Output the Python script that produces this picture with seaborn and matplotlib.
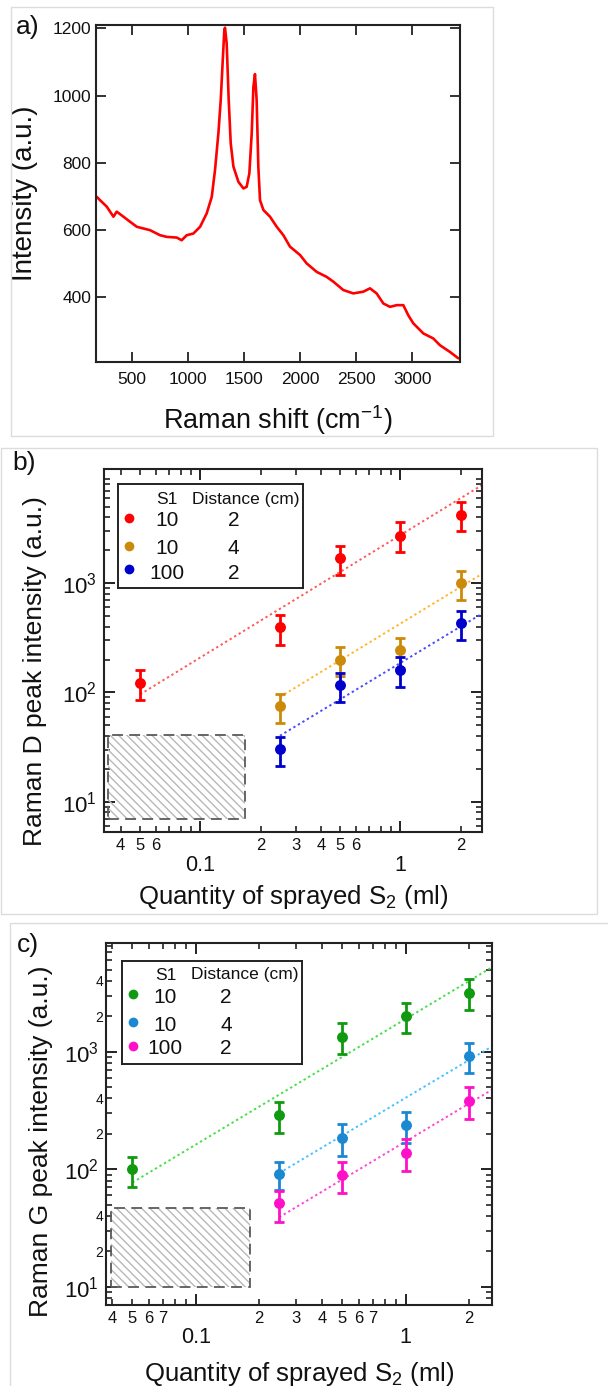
import numpy as np
import pandas as pd
import seaborn as sns
import matplotlib.pyplot as plt
from matplotlib.patches import Rectangle
from matplotlib.ticker import FixedLocator, FixedFormatter, NullFormatter

# ---------------- data ----------------
# a) Raman spectrum
shift = [188, 218, 277, 337, 366, 426, 485, 545, 604, 663, 752, 812, 901, 945,
         990, 1049, 1109, 1168, 1213, 1242, 1272, 1293, 1311, 1325, 1331, 1346,
         1364, 1382, 1406, 1450, 1495, 1524, 1548, 1569, 1584, 1598, 1613, 1628,
         1643, 1673, 1732, 1792, 1851, 1910, 2000, 2059, 2148, 2237, 2296, 2385,
         2474, 2563, 2623, 2682, 2742, 2801, 2861, 2920, 2964, 3009, 3098, 3187,
         3246, 3335, 3410]
intensity = [699, 689, 670, 640, 655, 640, 625, 610, 605, 600, 585, 580, 578, 570,
             585, 590, 610, 650, 699, 779, 888, 987, 1106, 1195, 1202, 1155,
             987, 858, 789, 744, 724, 729, 769, 888, 1026, 1064, 987, 789,
             689, 660, 640, 610, 585, 551, 526, 501, 476, 461, 447, 422,
             412, 417, 427, 412, 382, 372, 377, 377, 347, 323, 293, 278,
             258, 238, 219]

# b) / c) quantity of sprayed S2 (ml)
qty_all = [0.05, 0.25, 0.5, 1, 2]
qty_part = [0.25, 0.5, 1, 2]

# b) Raman D peak intensity
d_red = [122, 393, 1680, 2725, 4220]
d_red_lo = [86, 273, 1184, 1920, 3011]
d_red_hi = [159, 514, 2194, 3587, 5505]
d_orange = [74.5, 199, 242, 1000]
d_orange_lo = [52.5, 140, 167, 703]
d_orange_hi = [97, 260, 314, 1304]
d_blue = [30.3, 117, 161, 431]
d_blue_lo = [21, 81, 112, 302]
d_blue_hi = [39.1, 152, 209, 560]

# c) Raman G peak intensity
g_green = [100, 290, 1342, 2024, 3178]
g_green_lo = [70.3, 205, 950, 1434, 2264]
g_green_hi = [128, 376, 1745, 2612, 4133]
g_blue = [90.7, 186, 238, 925]
g_blue_lo = [66.6, 130, 168, 655]
g_blue_hi = [116, 242, 309, 1193]
g_pink = [51.3, 88.9, 137, 384]
g_pink_lo = [35.8, 62.4, 96.7, 268]
g_pink_hi = [65.7, 115, 180, 499]

# power-law fits: intensity at 1 ml, exponent
d_fit_amp = [2750, 426, 186]
d_fit_exp = [1.12, 1.115, 1.106]
g_fit_amp = [1900, 405, 172]
g_fit_exp = [1.07, 1.064, 1.071]

# legend table
s1_vals = ['10', '10', '100']
dist_vals = ['2', '4', '2']

# hatched (below detection) regions
d_hatch_x = [0.0347, 0.168]
d_hatch_y = [6.9, 40.8]
g_hatch_x = [0.0395, 0.181]
g_hatch_y = [10.0, 46.5]

# ---------------- style ----------------
sns.set_style('ticks')
plt.rcParams['font.family'] = ['Liberation Sans', 'DejaVu Sans']
plt.rcParams['mathtext.fontset'] = 'custom'
plt.rcParams['mathtext.rm'] = 'Liberation Sans'
plt.rcParams['mathtext.it'] = 'Liberation Sans:italic'
plt.rcParams['hatch.linewidth'] = 1.0
TXT = '#111111'
SPINE = '#222222'

W, H = 608, 1386
fig = plt.figure(figsize=(W / 100, H / 100), dpi=100)


def px_axes(l, t, r, b):
    return fig.add_axes([l / W, 1 - b / H, (r - l) / W, (b - t) / H])


def frame(l, t, r, b):
    fig.patches.append(Rectangle((l / W, 1 - b / H), (r - l) / W, (b - t) / H,
                                 transform=fig.transFigure, fill=False,
                                 ec='#dcdcdc', lw=1.0))


def style_spines(ax):
    for s in ax.spines.values():
        s.set_visible(True)
        s.set_color(SPINE)
        s.set_linewidth(1.5)


frame(11, 7, 493, 436)
frame(1, 448, 597, 914)
frame(10, 923, 640, 1400)

# ---------------- a) spectrum ----------------
ax_a = px_axes(95.5, 25, 460, 362)
sns.lineplot(x=shift, y=intensity, color='#ff0000', lw=1.9, ax=ax_a)
ax_a.set_xlim(177, 3425)
ax_a.set_ylim(208, 1210)
ax_a.set_xticks([500, 1000, 1500, 2000, 2500, 3000])
ax_a.set_yticks([400, 600, 800, 1000, 1200])
style_spines(ax_a)
ax_a.tick_params(direction='in', length=7, width=1.3, color=SPINE,
                 top=True, right=True, labelsize=12.5, labelcolor=TXT)
ax_a.tick_params(axis='x', pad=7)
ax_a.tick_params(axis='y', pad=3)
ax_a.set_xlabel('Raman shift (cm$^{-1}$)', fontsize=19.5, color=TXT)
ax_a.set_ylabel('Intensity (a.u.)', fontsize=20, color=TXT)
ax_a.xaxis.set_label_coords(0.5, -0.122)
ax_a.yaxis.set_label_coords(-0.157, 0.5)


# ---------------- helpers for log panels ----------------
def log_axes(ax, xlim, ylim, xminor_lab, ylab_minor):
    ax.set_xscale('log')
    ax.set_yscale('log')
    ax.set_xlim(*xlim)
    ax.set_ylim(*ylim)
    style_spines(ax)
    # x ticks
    xminor = [0.04, 0.05, 0.06, 0.07, 0.08, 0.09,
              0.2, 0.3, 0.4, 0.5, 0.6, 0.7, 0.8, 0.9, 2]
    ax.xaxis.set_major_locator(FixedLocator([0.1, 1]))
    ax.xaxis.set_major_formatter(FixedFormatter(['0.1', '1']))
    ax.xaxis.set_minor_locator(FixedLocator(xminor))
    ax.xaxis.set_minor_formatter(FixedFormatter(xminor_lab))
    # y ticks
    yminor = [v * 10 ** e for e in range(0, 4) for v in range(2, 10)]
    yminor = [v for v in yminor if ylim[0] <= v <= ylim[1]]
    ax.yaxis.set_major_locator(FixedLocator([10, 100, 1000]))
    ax.yaxis.set_major_formatter(FixedFormatter(['$10^1$', '$10^2$', '$10^3$']))
    ax.yaxis.set_minor_locator(FixedLocator(yminor))
    if ylab_minor:
        ax.yaxis.set_minor_formatter(FixedFormatter(
            ['2' if str(v)[0] == '2' else '4' if str(v)[0] == '4' else ''
             for v in yminor]))
    else:
        ax.yaxis.set_minor_formatter(NullFormatter())
    ax.tick_params(which='both', direction='in', top=True, right=True,
                   color=SPINE, labelcolor=TXT)
    ax.tick_params(which='major', length=8, width=1.4)
    ax.tick_params(which='minor', length=4.5, width=1.2)
    ax.tick_params(axis='x', which='major', labelsize=15.5, pad=16)
    ax.tick_params(axis='x', which='minor', labelsize=12, pad=4)
    ax.tick_params(axis='y', which='major', labelsize=16, pad=5)
    ax.tick_params(axis='y', which='minor', labelsize=10, pad=2)


def draw_series(ax, xs, ys, lo, hi, mcol, fcol, amp, k, xmax):
    ys = np.array(ys)
    ax.errorbar(xs, ys, yerr=[ys - np.array(lo), np.array(hi) - ys], fmt='none',
                ecolor=mcol, elinewidth=2.0, capsize=3.6, capthick=2.0, zorder=3)
    sns.scatterplot(x=xs, y=ys, color=mcol, s=62, linewidth=0, ax=ax, zorder=4)
    fx = [xs[0], xmax]
    fy = [amp * fx[0] ** k, amp * fx[1] ** k]
    sns.lineplot(x=fx, y=fy, color=fcol, lw=1.4, linestyle=(0, (1.2, 1.5)),
                 ax=ax, zorder=2)


def hatch_box(ax, hx, hy):
    ax.add_patch(Rectangle((hx[0], hy[0]), hx[1] - hx[0], hy[1] - hy[0],
                           fill=False, hatch='\\\\\\\\', ec='#b8b8b8', lw=0,
                           zorder=1))
    ax.add_patch(Rectangle((hx[0], hy[0]), hx[1] - hx[0], hy[1] - hy[0],
                           fill=False, ec='#5a5a5a', lw=1.3,
                           linestyle=(0, (6, 3.5)), zorder=1))


def table_legend(box, cols, rows_y, mark_y, mark_x, head_y, colx, headx, colors):
    l, t, r, b = box
    lg = px_axes(l, t, r, b)
    lg.set_xlim(l, r)
    lg.set_ylim(b, t)
    lg.set_xticks([])
    lg.set_yticks([])
    lg.set_facecolor('white')
    for s in lg.spines.values():
        s.set_color(SPINE)
        s.set_linewidth(1.4)
    lg.text(headx[0], head_y, 'S1', ha='center', va='center', fontsize=12.5, color=TXT)
    lg.text(headx[1], head_y, 'Distance (cm)', ha='center', va='center',
            fontsize=12.5, color=TXT)
    for i in range(3):
        lg.plot([mark_x], [mark_y[i]], 'o', ms=7, color=colors[i], mec='none')
        lg.text(colx[0], rows_y[i], cols[0][i], ha='center', va='center',
                fontsize=15, color=TXT)
        lg.text(colx[1], rows_y[i], cols[1][i], ha='center', va='center',
                fontsize=15, color=TXT)


# ---------------- b) D peak ----------------
ax_b = px_axes(104, 469.3, 481.7, 832.3)
b_xlim = (0.033, 2.55)
log_axes(ax_b, b_xlim, (5.25, 11000),
         ['4', '5', '6', '', '', '', '2', '3', '4', '5', '6', '', '', '', '2'], False)
hatch_box(ax_b, d_hatch_x, d_hatch_y)
b_mark = ['#ff0000', '#cc8a0a', '#0000cc']
b_fitc = ['#ff5a5a', '#ffb52a', '#4a4aff']
draw_series(ax_b, qty_all, d_red, d_red_lo, d_red_hi, b_mark[0], b_fitc[0],
            d_fit_amp[0], d_fit_exp[0], b_xlim[1])
draw_series(ax_b, qty_part, d_orange, d_orange_lo, d_orange_hi, b_mark[1], b_fitc[1],
            d_fit_amp[1], d_fit_exp[1], b_xlim[1])
draw_series(ax_b, qty_part, d_blue, d_blue_lo, d_blue_hi, b_mark[2], b_fitc[2],
            d_fit_amp[2], d_fit_exp[2], b_xlim[1])
ax_b.set_xlabel('Quantity of sprayed S$_2$ (ml)', fontsize=18.5, color=TXT)
ax_b.set_ylabel('Raman D peak intensity (a.u.)', fontsize=19, color=TXT)
ax_b.xaxis.set_label_coords(0.5, -0.14)
ax_b.yaxis.set_label_coords(-0.152, 0.445)
table_legend((118, 484.3, 303.3, 587.7), (s1_vals, dist_vals),
             (521, 549, 573.3), (517.7, 545.7, 569.3), 129.3, 499.3,
             (166.7, 233.3), (166.7, 246), b_mark)

# ---------------- c) G peak ----------------
ax_c = px_axes(106, 942.7, 491.7, 1305)
c_xlim = (0.0374, 2.57)
log_axes(ax_c, c_xlim, (6.98, 8470),
         ['4', '5', '6', '7', '', '', '2', '3', '4', '5', '6', '7', '', '', '2'], True)
hatch_box(ax_c, g_hatch_x, g_hatch_y)
c_mark = ['#0f9a0f', '#1b88d2', '#ff10c8']
c_fitc = ['#45e045', '#45c2ff', '#ff45d6']
draw_series(ax_c, qty_all, g_green, g_green_lo, g_green_hi, c_mark[0], c_fitc[0],
            g_fit_amp[0], g_fit_exp[0], c_xlim[1])
draw_series(ax_c, qty_part, g_blue, g_blue_lo, g_blue_hi, c_mark[1], c_fitc[1],
            g_fit_amp[1], g_fit_exp[1], c_xlim[1])
draw_series(ax_c, qty_part, g_pink, g_pink_lo, g_pink_hi, c_mark[2], c_fitc[2],
            g_fit_amp[2], g_fit_exp[2], c_xlim[1])
ax_c.set_xlabel('Quantity of sprayed S$_2$ (ml)', fontsize=18.5, color=TXT)
ax_c.set_ylabel('Raman G peak intensity (a.u.)', fontsize=19, color=TXT)
ax_c.xaxis.set_label_coords(0.5, -0.152)
ax_c.yaxis.set_label_coords(-0.137, 0.451)
table_legend((121.7, 961, 301.7, 1064), (s1_vals, dist_vals),
             (997.7, 1025.3, 1049), (994.3, 1021.7, 1045.7), 132.7, 975,
             (165, 226), (165.7, 245), c_mark)

# panel letters
fig.text(28 / W, 1 - 27 / H, 'a)', fontsize=19, ha='center', va='center', color=TXT)
fig.text(24 / W, 1 - 463 / H, 'b)', fontsize=19, ha='center', va='center', color=TXT)
fig.text(28 / W, 1 - 945 / H, 'c)', fontsize=19, ha='center', va='center', color=TXT)

fig.savefig('out.png', dpi=100)
